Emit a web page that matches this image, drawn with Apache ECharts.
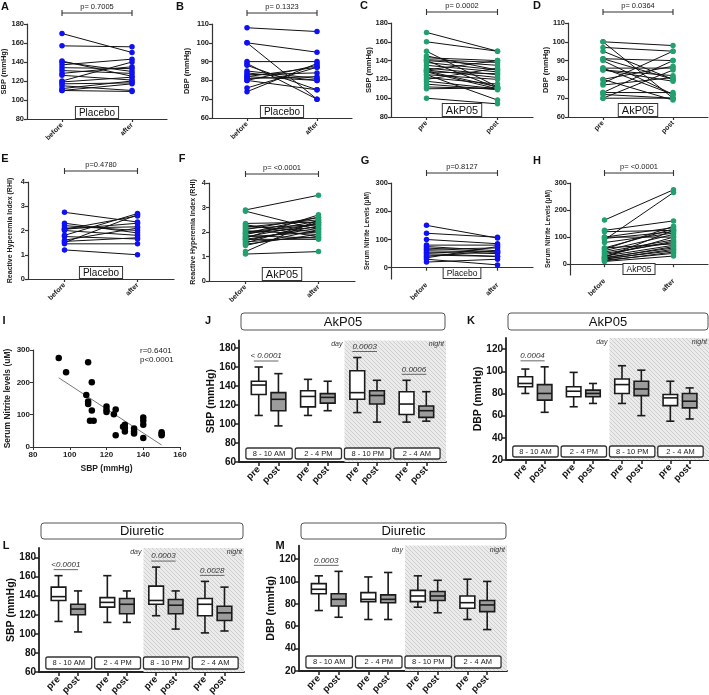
<!DOCTYPE html>
<html><head><meta charset="utf-8">
<script src="https://cdn.jsdelivr.net/npm/echarts@6/dist/echarts.min.js"></script>
<style>html,body{margin:0;padding:0;background:#fff}#c{width:709px;height:695px}</style>
</head><body><div id="c"></div>
<script>
const FONT = '"Liberation Sans", Arial, sans-serif';
const BLUE = '#1010f5';
const GREEN = '#22a070';

// ---------- paired panels (A-H) ----------
const sbpPlaceboBefore = [170,157,141,140,137,134,131,128,126,120,119,117,115,112,110,110];
const sbpPlaceboAfter  = [150,156,125,130,143,133,128,135,121,140,124,118,110,120,109,117];
const dbpPlaceboBefore = [108,100,100,90,89,88,85,84,83,82,82,81,80,76,74,80];
const dbpPlaceboAfter  = [106,95,70,90,70,75,81,80,84,87,80,82,88,87,89,75];
const sbpAkpPre  = [170,160,150,143,141,140,140,138,135,132,130,130,129,128,125,122,120,118,115,112,110,125,100,145,128];
const sbpAkpPost = [150,150,112,140,138,135,111,130,128,125,140,122,112,110,120,115,132,110,109,110,111,98,94,130,126];
const dbpAkpPre  = [100,100,97,95,91,90,86,85,85,80,80,78,77,73,73,72,70,70,91,86];
const dbpAkpPost = [70,98,95,80,90,72,86,82,79,87,69,95,81,90,73,70,70,85,80,72];
const rhiPlaceboBefore = [2.75,2.3,2.2,2.05,2.05,2.0,1.8,1.75,1.6,1.5,1.45,1.2,1.55,2.1];
const rhiPlaceboAfter  = [2.35,1.9,2.0,2.6,2.3,1.8,2.7,1.65,2.1,2.65,1.45,1.0,1.7,2.15];
const rhiAkpBefore = [2.9,2.85,2.35,2.3,2.25,2.2,2.1,2.05,2.0,1.95,1.9,1.85,1.8,1.8,1.75,1.7,1.7,1.65,1.6,1.55,1.5,1.45,1.2,1.1,1.95,2.15];
const rhiAkpAfter  = [3.5,2.1,2.4,1.8,2.0,2.5,2.6,1.9,2.3,2.2,2.45,1.75,2.35,2.0,2.7,2.15,1.7,2.25,1.8,2.4,1.9,2.1,2.5,1.2,2.6,2.3];
const nitPlaceboBefore = [150,122,100,80,75,65,60,55,50,40,35,20,70,45,30];
const nitPlaceboAfter  = [105,108,85,80,60,70,55,50,40,60,75,30,55,40,10];
const nitAkpBefore = [163,90,125,120,100,95,60,55,50,45,40,30,25,20,15,10,80,35,28,22,18,12,60,25,100];
const nitAkpAfter  = [275,265,160,125,100,120,130,140,110,90,80,70,60,50,40,30,115,85,100,65,55,45,75,125,135];

// ---------- scatter panel (I) ----------
const scatSBP = [94,98,110,112,109,110,110,112,111,113,120,120,120,124,125,125,129,130,130,130,135,135,135,140,140,140,140,150,150,150];
const scatNit = [275,231,262,200,161,141,133,113,81,81,125,115,108,101,116,36,63,69,59,48,57,48,42,91,81,69,28,46,40,36];
const regSBP = [94,150];
const regNit = [214,6];

// ---------- box panels (J-M): [min, q1, median, q3, max] ----------
const BOX_X = [2,4,7,9,12,14,17,19];
const BOX_LBL = ['pre','post','pre','post','pre','post','pre','post'];
const WINDOWS = ['8 - 10 AM','2 - 4 PM','8 - 10 PM','2 - 4 AM'];
const NIGHT_START = 10.7;
const sbpAkpBox = [[109,131,141,145,160],[98,114,126,133,153],[109,118,129,135,147],[114,122,128,132,145],[112,126,133,156,170],[102,121,130,135,146],[102,110,121,134,146],[103,107,114,119,134]];
const sbpAkpSig = [[0,'< 0.0001'],[2,'0.0003'],[3,'0.0006']];
const dbpAkpBox = [[80,86,89,95,102],[63,74,80,88,104],[68,77,82,86,99],[71,77,80,83,89],[71,80,88,93,105],[60,78,84,91,101],[55,69,76,79,91],[57,67,73,80,85]];
const dbpAkpSig = [[0,'0.0004']];
const sbpDiurBox = [[113,135,139,149,161],[102,120,126,131,145],[112,128,133,138,161],[112,121,131,137,145],[119,131,135,150,170],[105,121,130,136,145],[101,119,131,137,155],[103,114,122,129,149]];
const sbpDiurSig = [[0,'<0.0001'],[2,'0.0003'],[3,'0.0028']];
const dbpDiurBox = [[74,89,93,98,105],[68,78,84,89,109],[66,82,84,90,104],[66,81,84,88,108],[77,82,87,92,105],[72,83,87,91,101],[66,76,81,87,102],[57,73,79,83,100]];
const dbpDiurSig = [[0,'0.0003']];

const option = {animation:false, textStyle:{fontFamily:FONT}, grid:[], xAxis:[], yAxis:[], series:[], graphic:[]};

function hatch(){
  const c=document.createElement('canvas'); c.width=c.height=4;
  const g=c.getContext('2d'); g.fillStyle='#ebebeb'; g.fillRect(0,0,4,4);
  g.strokeStyle='#cfcfcf'; g.lineWidth=1; g.beginPath(); g.moveTo(0,0); g.lineTo(4,4); g.stroke();
  return c;
}
const HATCH = hatch();

function range(a,b,s){const r=[];for(let v=a;v<=b+1e-9;v+=s)r.push(+v.toFixed(4));return r;}

function paired(p){
  const i=option.grid.length;
  option.grid.push({left:p.left,top:p.top,width:p.width,height:p.height,containLabel:false,outerBoundsMode:'none'});
  option.xAxis.push({gridIndex:i,type:'category',data:p.cats,boundaryGap:true,
    axisLine:{lineStyle:{color:'#333',width:1.2}},
    axisTick:{show:true,alignWithLabel:true,length:3,lineStyle:{color:'#333',width:1.2}},
    axisLabel:{rotate:45,interval:0,fontSize:7,fontWeight:'bold',color:'#222',fontFamily:FONT,margin:5},
    splitLine:{show:false}});
  option.yAxis.push({gridIndex:i,type:'value',min:p.min,max:p.max,
    axisLine:{show:true,lineStyle:{color:'#333',width:1.2}},
    axisTick:{show:true,length:3,customValues:p.ticks,lineStyle:{color:'#333',width:1.2}},
    axisLabel:{customValues:p.ticks,fontSize:7.5,fontWeight:'bold',color:'#222',fontFamily:FONT,margin:3},
    splitLine:{show:false},name:p.yName,nameLocation:'middle',nameGap:p.gap,nameMoveOverlap:false,
    nameTextStyle:{fontSize:p.nameFont,fontWeight:'bold',color:'#222',fontFamily:FONT}});
  p.before.forEach((b,k)=>option.series.push({type:'line',xAxisIndex:i,yAxisIndex:i,data:[b,p.after[k]],
    symbol:'none',lineStyle:{color:'#111',width:1},silent:true,z:2}));
  option.series.push({type:'scatter',xAxisIndex:i,yAxisIndex:i,silent:true,z:3,symbolSize:5.5,
    itemStyle:{color:p.color,opacity:1},
    data:[...p.before.map(v=>[0,v]),...p.after.map(v=>[1,v])]});
  option.series.push({type:'custom',xAxisIndex:i,yAxisIndex:i,silent:true,z:4,clip:false,data:[[0,p.min]],
    renderItem:(params,api)=>{
      const a=api.coord([0,p.max]), b=api.coord([1,p.max]), base=api.coord([0,p.min]);
      const yb=a[1]-p.bracket, cx=(a[0]+b[0])/2;
      const st={stroke:'#333',lineWidth:1.1};
      return {type:'group',children:[
        {type:'line',shape:{x1:a[0],y1:yb,x2:b[0],y2:yb},style:st},
        {type:'line',shape:{x1:a[0],y1:yb-3,x2:a[0],y2:yb+3},style:st},
        {type:'line',shape:{x1:b[0],y1:yb-3,x2:b[0],y2:yb+3},style:st},
        {type:'text',x:cx,y:yb-6,style:{text:p.pText,fontSize:7.5,fontFamily:FONT,fill:'#222',align:'center',verticalAlign:'middle'}},
        {type:'text',x:cx,y:base[1]-1,style:{text:p.legend,fontSize:p.legFont,fontFamily:FONT,fill:'#111',align:'center',verticalAlign:'bottom',
          backgroundColor:'#fff',borderColor:'#333',borderWidth:1,padding:[1,3,0,3]}}
      ]};
    }});
}

function boxPanel(p){
  const i=option.grid.length;
  option.grid.push({left:p.left,top:p.top,width:p.width,height:p.height,containLabel:false,outerBoundsMode:'none'});
  option.xAxis.push({gridIndex:i,type:'value',min:0,max:21,
    axisLine:{lineStyle:{color:'#222',width:1.8}},
    axisTick:{show:true,customValues:BOX_X,length:4,lineStyle:{color:'#222',width:1.5}},
    axisLabel:{customValues:BOX_X,formatter:v=>BOX_LBL[BOX_X.indexOf(Math.round(v))]||'',rotate:45,
      fontSize:9.5,fontWeight:'bold',color:'#111',fontFamily:FONT,margin:6},
    splitLine:{show:false}});
  option.yAxis.push({gridIndex:i,type:'value',min:p.ymin,max:p.ymax,
    axisLine:{show:true,lineStyle:{color:'#222',width:1.8}},
    axisTick:{show:true,customValues:p.ticks,length:4,lineStyle:{color:'#222',width:1.5}},
    axisLabel:{customValues:p.ticks,fontSize:10,fontWeight:'bold',color:'#111',fontFamily:FONT,margin:3},
    splitLine:{show:false},name:p.yName,nameLocation:'middle',nameGap:p.gap,nameMoveOverlap:false,
    nameTextStyle:{fontSize:10.5,fontWeight:'bold',color:'#111',fontFamily:FONT}});
  // night shading
  option.series.push({type:'custom',xAxisIndex:i,yAxisIndex:i,silent:true,z:1,clip:false,data:[[0,p.ymin]],
    renderItem:(params,api)=>{
      const a=api.coord([NIGHT_START,p.ymax]), b=api.coord([21,p.ymin]);
      return {type:'rect',shape:{x:a[0],y:a[1],width:b[0]-a[0],height:b[1]-a[1]},
        style:{fill:{image:HATCH,repeat:'repeat'}}};
    }});
  // boxes
  option.series.push({type:'custom',xAxisIndex:i,yAxisIndex:i,silent:true,z:3,clip:false,
    data:p.stats.map((s,k)=>[BOX_X[k],...s,k%2]),
    renderItem:(params,api)=>{
      const x=api.value(0), post=api.value(6);
      const c=v=>api.coord([x,v])[1];
      const xl=api.coord([x-0.75,p.ymin])[0], xr=api.coord([x+0.75,p.ymin])[0];
      const cl=api.coord([x-0.42,p.ymin])[0], cr=api.coord([x+0.42,p.ymin])[0];
      const xc=api.coord([x,p.ymin])[0];
      const yMin=c(api.value(1)), yQ1=c(api.value(2)), yMed=c(api.value(3)), yQ3=c(api.value(4)), yMax=c(api.value(5));
      const st={stroke:'#1a1a1a',lineWidth:1.6};
      return {type:'group',children:[
        {type:'line',shape:{x1:xc,y1:yMax,x2:xc,y2:yQ3},style:st},
        {type:'line',shape:{x1:xc,y1:yQ1,x2:xc,y2:yMin},style:st},
        {type:'line',shape:{x1:cl,y1:yMax,x2:cr,y2:yMax},style:st},
        {type:'line',shape:{x1:cl,y1:yMin,x2:cr,y2:yMin},style:st},
        {type:'rect',shape:{x:xl,y:yQ3,width:xr-xl,height:yQ1-yQ3},style:{fill:post?'#9c9c9c':'#fff',stroke:'#1a1a1a',lineWidth:1.6}},
        {type:'line',shape:{x1:xl,y1:yMed,x2:xr,y2:yMed},style:st}
      ]};
    }});
  // annotations
  option.series.push({type:'custom',xAxisIndex:i,yAxisIndex:i,silent:true,z:4,clip:false,data:[[0,p.ymin]],
    renderItem:(params,api)=>{
      const ch=[];
      const bottom=api.coord([0,p.ymin])[1], top=api.coord([0,p.ymax])[1];
      const X=v=>api.coord([v,p.ymin])[0];
      WINDOWS.forEach((w,k)=>{
        const x0=X(BOX_X[2*k]-1.3), x1=X(BOX_X[2*k+1]+1.4);
        ch.push({type:'rect',shape:{x:x0,y:bottom-3-p.winH,width:x1-x0,height:p.winH,r:2},
          style:{fill:'#fff',stroke:'#333',lineWidth:1.3}});
        ch.push({type:'text',x:(x0+x1)/2,y:bottom-3-p.winH/2,style:{text:w,fontSize:7.5,fontFamily:FONT,fill:'#222',align:'center',verticalAlign:'middle'}});
      });
      p.sig.forEach(([k,t])=>{
        const mx=Math.max(p.stats[2*k][4],p.stats[2*k+1][4]);
        const y=api.coord([0,mx])[1]-6;
        const x0=X(BOX_X[2*k]-0.5), x1=X(BOX_X[2*k+1]);
        ch.push({type:'line',shape:{x1:x0,y1:y,x2:x1,y2:y},style:{stroke:'#666',lineWidth:1}});
        ch.push({type:'text',x:(x0+x1)/2,y:y-1,style:{text:t,fontSize:8,fontStyle:'italic',fontFamily:FONT,fill:'#333',align:'center',verticalAlign:'bottom'}});
      });
      ch.push({type:'text',x:X(NIGHT_START)-2,y:top+4,style:{text:'day',fontSize:7,fontStyle:'italic',fontFamily:FONT,fill:'#333',align:'right',verticalAlign:'middle'}});
      ch.push({type:'text',x:X(21)-2,y:top+4,style:{text:'night',fontSize:7,fontStyle:'italic',fontFamily:FONT,fill:'#333',align:'right',verticalAlign:'middle'}});
      const t0=X(0)+2, t1=X(21)-1;
      ch.push({type:'rect',shape:{x:t0,y:p.titleTop,width:t1-t0,height:p.titleH,r:3},style:{fill:'#fff',stroke:'#555',lineWidth:1}});
      ch.push({type:'text',x:(t0+t1)/2,y:p.titleTop+p.titleH/2+0.5,style:{text:p.title,fontSize:13,fontFamily:FONT,fill:'#111',align:'center',verticalAlign:'middle'}});
      return {type:'group',children:ch};
    }});
}

const pre=['pre','post'], ba=['before','after'];
paired({left:27,top:24,width:140,height:95,min:80,max:180,ticks:range(80,180,20),yName:'SBP (mmHg)',gap:19,nameFont:7.5,
  pText:'p= 0.7005',legend:'Placebo',legFont:10,color:BLUE,cats:ba,before:sbpPlaceboBefore,after:sbpPlaceboAfter,bracket:11});
paired({left:212,top:24,width:140,height:94,min:60,max:110,ticks:range(60,110,10),yName:'DBP (mmHg)',gap:21,nameFont:7.5,
  pText:'p= 0.1323',legend:'Placebo',legFont:10,color:BLUE,cats:ba,before:dbpPlaceboBefore,after:dbpPlaceboAfter,bracket:11});
paired({left:391,top:23,width:142,height:94,min:80,max:180,ticks:range(80,180,20),yName:'SBP (mmHg)',gap:18,nameFont:7.5,
  pText:'p= 0.0002',legend:'AkP05',legFont:11,color:GREEN,cats:pre,before:sbpAkpPre,after:sbpAkpPost,bracket:11});
paired({left:568,top:23,width:140,height:94,min:60,max:110,ticks:range(60,110,10),yName:'DBP (mmHg)',gap:18,nameFont:7.5,
  pText:'p= 0.0364',legend:'AkP05',legFont:11,color:GREEN,cats:pre,before:dbpAkpPre,after:dbpAkpPost,bracket:11});
paired({left:28,top:182,width:146,height:97,min:0,max:4,ticks:range(0,4,1),yName:'Reactive Hyperemia Index (RHI)',gap:14,nameFont:7,
  pText:'p=0.4780',legend:'Placebo',legFont:10,color:BLUE,cats:ba,before:rhiPlaceboBefore,after:rhiPlaceboAfter,bracket:11});
paired({left:209,top:183,width:146,height:98,min:0,max:4,ticks:range(0,4,1),yName:'Reactive Hyperemia Index (RHI)',gap:12,nameFont:7,
  pText:'p= <0.0001',legend:'AkP05',legFont:11,color:GREEN,cats:ba,before:rhiAkpBefore,after:rhiAkpAfter,bracket:9});
paired({left:391,top:183,width:142,height:96,min:-40,max:300,ticks:range(0,300,100),yName:'Serum Nitrite Levels (\u00b5M)',gap:20,nameFont:6.5,
  pText:'p=0.8127',legend:'Placebo',legFont:8.5,color:BLUE,cats:ba,before:nitPlaceboBefore,after:nitPlaceboAfter,bracket:10});
paired({left:570,top:183,width:138,height:92,min:-40,max:300,ticks:range(0,300,100),yName:'Serum Nitrite Levels (\u00b5M)',gap:18,nameFont:6.5,
  pText:'p= <0.0001',legend:'AkP05',legFont:8.5,color:GREEN,cats:ba,before:nitAkpBefore,after:nitAkpAfter,bracket:10});

// panel I
(function(){
  const i=option.grid.length;
  option.grid.push({left:33,top:350,width:147,height:97,containLabel:false,outerBoundsMode:'none'});
  option.xAxis.push({gridIndex:i,type:'value',min:80,max:160,interval:20,
    axisLine:{lineStyle:{color:'#333',width:1.2}},axisTick:{show:true,length:3,lineStyle:{color:'#333'}},
    axisLabel:{fontSize:8,fontWeight:'bold',color:'#222',fontFamily:FONT,margin:4},splitLine:{show:false},
    name:'SBP (mmHg)',nameLocation:'middle',nameGap:17,nameMoveOverlap:false,nameTextStyle:{fontSize:8.5,fontWeight:'bold',color:'#222',fontFamily:FONT}});
  option.yAxis.push({gridIndex:i,type:'value',min:0,max:300,interval:100,
    axisLine:{show:true,lineStyle:{color:'#333',width:1.2}},axisTick:{show:true,length:3,lineStyle:{color:'#333'}},
    axisLabel:{fontSize:8,fontWeight:'bold',color:'#222',fontFamily:FONT,margin:3},splitLine:{show:false},
    name:'Serum Nitrite levels (uM)',nameLocation:'middle',nameGap:21,nameMoveOverlap:false,nameTextStyle:{fontSize:8.5,fontWeight:'bold',color:'#222',fontFamily:FONT}});
  option.series.push({type:'line',xAxisIndex:i,yAxisIndex:i,data:regSBP.map((x,k)=>[x,regNit[k]]),symbol:'none',
    lineStyle:{color:'#777',width:1},silent:true,z:2});
  option.series.push({type:'scatter',xAxisIndex:i,yAxisIndex:i,data:scatSBP.map((x,k)=>[x,scatNit[k]]),symbolSize:6.5,
    itemStyle:{color:'#000',opacity:1},silent:true,z:3});
})();

boxPanel({left:239,top:340.4,width:207,height:121.6,ymin:60,ymax:188,ticks:range(60,180,20),yName:'SBP (mmHg)',gap:22,
  stats:sbpAkpBox,sig:sbpAkpSig,title:'AkP05',titleTop:313,titleH:17,winH:11});
boxPanel({left:506,top:338,width:203,height:122,ymin:20,ymax:130,ticks:range(20,120,20),yName:'DBP (mmHg)',gap:22,
  stats:dbpAkpBox,sig:dbpAkpSig,title:'AkP05',titleTop:313,titleH:17,winH:11});
boxPanel({left:39,top:548,width:205,height:124,ymin:60,ymax:190,ticks:range(60,180,20),yName:'SBP (mmHg)',gap:22,
  stats:sbpDiurBox,sig:sbpDiurSig,title:'Diuretic',titleTop:523,titleH:16,winH:12});
boxPanel({left:299,top:545.6,width:208,height:125.4,ymin:20,ymax:132,ticks:range(20,120,20),yName:'DBP (mmHg)',gap:22,
  stats:dbpDiurBox,sig:dbpDiurSig,title:'Diuretic',titleTop:523,titleH:16,winH:12});

// panel letters and panel-I statistics
const letters=[['A',5,7],['B',180,7],['C',364,6],['D',537,6],['E',5,159],['F',182,159],['G',365,161],['H',537,161],
  ['I',4,321],['J',208,321],['K',471,321],['L',6,546],['M',280,546]];
letters.forEach(([t,x,y])=>option.graphic.push({type:'text',x:x,y:y,silent:true,
  style:{text:t,fontSize:11,fontWeight:'bold',fontFamily:FONT,fill:'#111',align:'center',verticalAlign:'middle'}}));
option.graphic.push({type:'text',x:140,y:346,silent:true,style:{text:'r=0.6401\np<0.0001',fontSize:8,lineHeight:9,fontFamily:FONT,fill:'#222',align:'left',verticalAlign:'top'}});

const chart=echarts.init(document.getElementById('c'),null,{renderer:'canvas'});
chart.setOption(option);
</script></body></html>
